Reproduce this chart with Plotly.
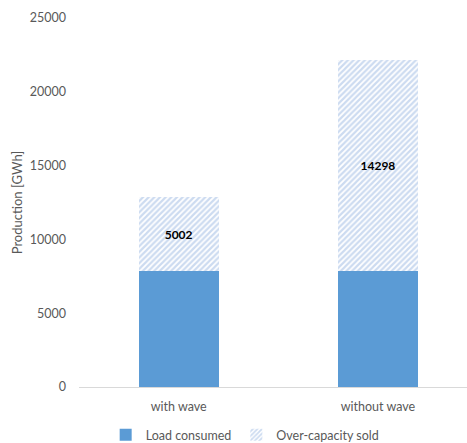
import plotly.graph_objects as go

# Scenarios and production split (GWh)
scenarios = ["with wave", "without wave"]
load_consumed = [7860, 7860]
over_capacity_sold = [5002, 14298]
y_ticks = [0, 5000, 10000, 15000, 20000, 25000]

solid_blue = "#5B9BD5"
hatch_blue = "#9AB7E2"
text_grey = "#595959"
font_family = "Lato, 'Open Sans', sans-serif"

fig = go.Figure()

fig.add_trace(go.Bar(
    x=scenarios,
    y=load_consumed,
    name="Load consumed",
    marker=dict(color=solid_blue, line=dict(width=0)),
    width=0.4,
    hoverinfo="y",
))

fig.add_trace(go.Bar(
    x=scenarios,
    y=over_capacity_sold,
    name="Over-capacity sold",
    marker=dict(
        color="white",
        line=dict(width=0),
        pattern=dict(shape="/", fgcolor=hatch_blue, bgcolor="white",
                     size=4, solidity=0.55, fillmode="overlay"),
    ),
    width=0.4,
    text=[str(v) for v in over_capacity_sold],
    textposition="inside",
    insidetextanchor="middle",
    textfont=dict(family=font_family, size=12, color="black", weight="bold"),
    textangle=0,
))

fig.update_layout(
    barmode="stack",
    width=467,
    height=443,
    margin=dict(l=79, r=0, t=18, b=56, autoexpand=False),
    paper_bgcolor="white",
    plot_bgcolor="white",
    font=dict(family=font_family, size=12.5, color=text_grey),
    showlegend=True,
    legend=dict(
        orientation="h",
        xref="container", yref="container",
        x=0.525, xanchor="center",
        y=0.018, yanchor="middle",
        font=dict(size=12.5, color=text_grey),
        traceorder="normal",
        itemwidth=30,
        itemsizing="constant",
    ),
    xaxis=dict(
        range=[-0.5, 1.447],
        showgrid=False,
        showline=True,
        linecolor="#D9D9D9",
        linewidth=1,
        ticks="",
        ticklabelstandoff=8,
        tickfont=dict(size=12.5, color=text_grey),
        zeroline=False,
    ),
    yaxis=dict(
        range=[0, 25000],
        tickvals=y_ticks,
        ticktext=[str(v) for v in y_ticks],
        showgrid=False,
        zeroline=False,
        showline=False,
        ticks="",
        ticklabelstandoff=12,
        tickfont=dict(size=12.5, color=text_grey),
        title=dict(text="Production [GWh]", font=dict(size=13, color=text_grey), standoff=4),
    ),
)

fig.write_html("out.html")
